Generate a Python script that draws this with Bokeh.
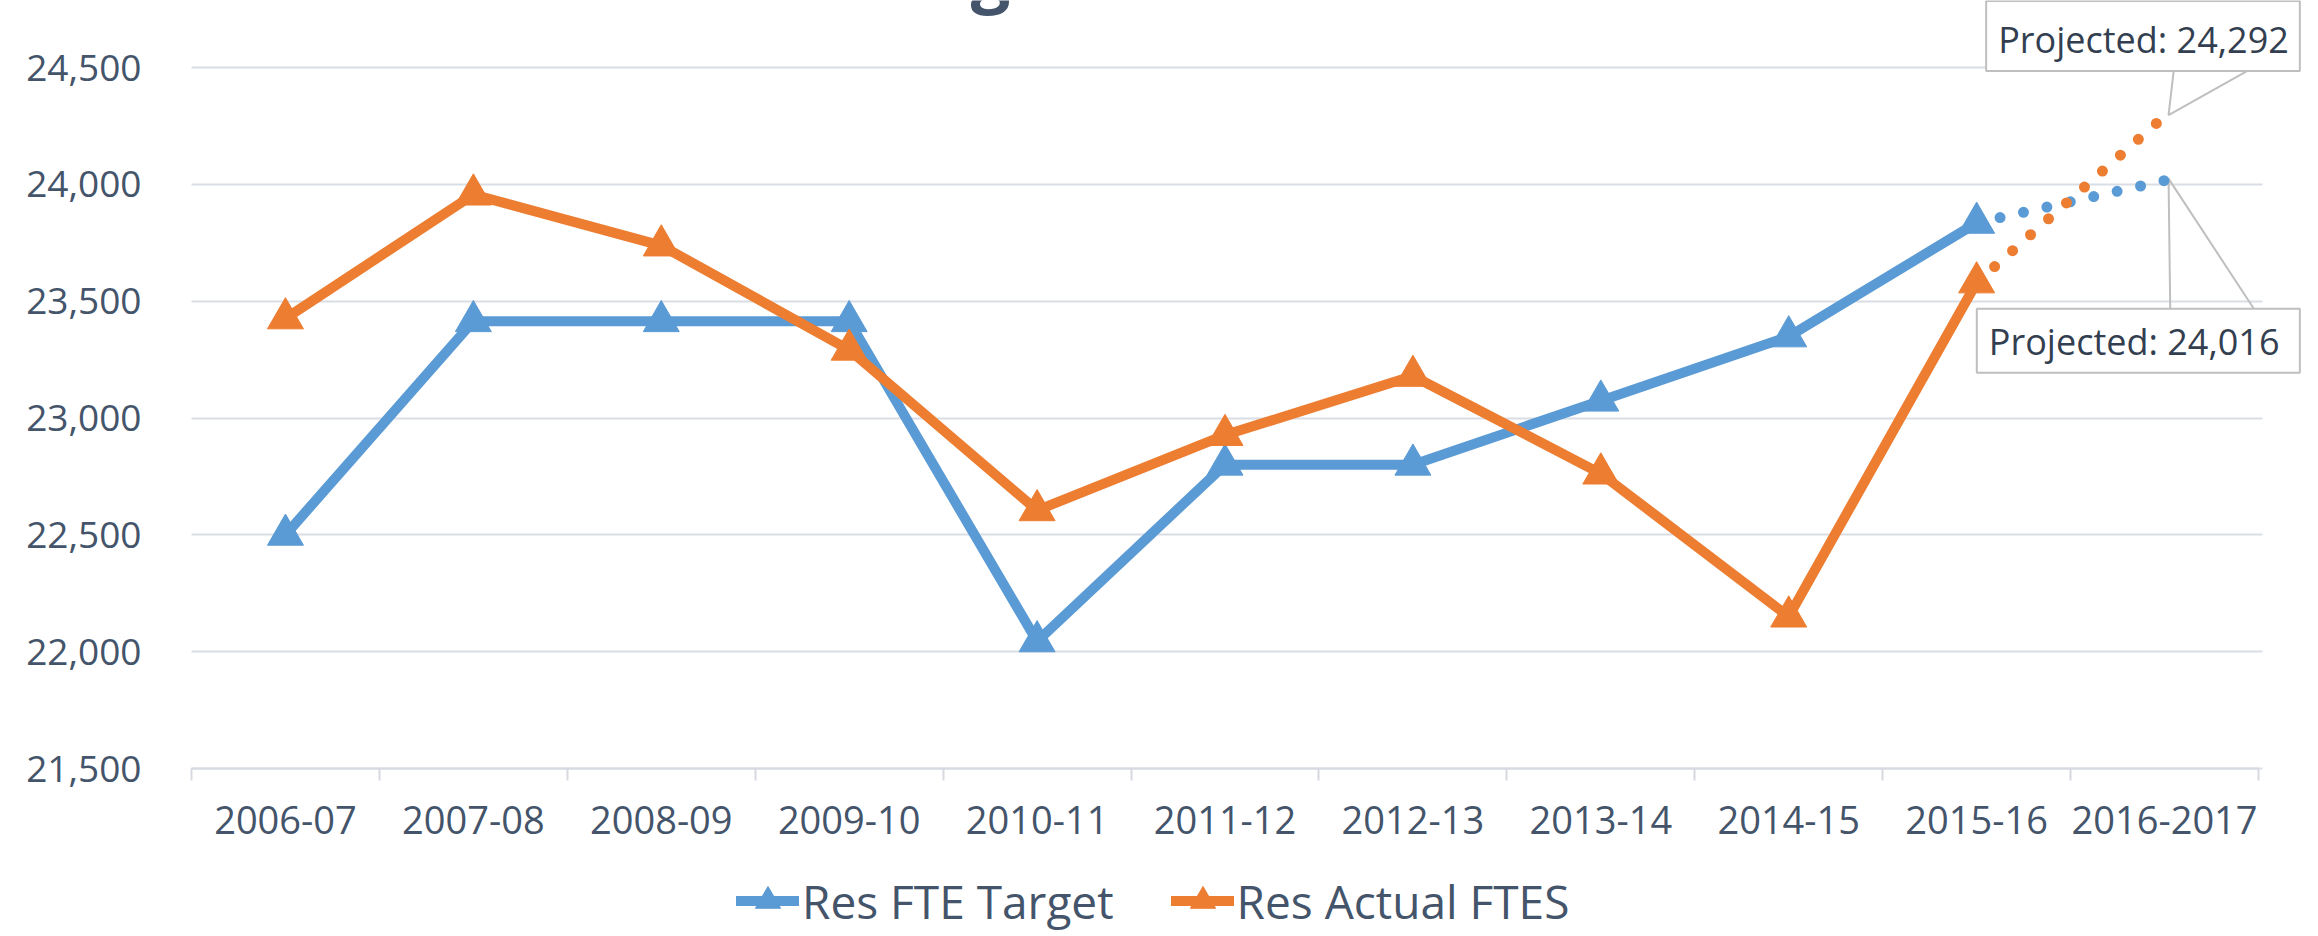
import numpy as np
from bokeh.plotting import figure
from bokeh.models import Range1d, FixedTicker, NumeralTickFormatter, Legend, LegendItem, Label
from bokeh.embed import file_html
from bokeh.resources import INLINE

# ---------------- data ----------------
categories = ["2006-07", "2007-08", "2008-09", "2009-10", "2010-11", "2011-12",
              "2012-13", "2013-14", "2014-15", "2015-16", "2016-2017"]
res_fte_target = [22500, 23414, 23414, 23414, 22044, 22800, 22800, 23074, 23349, 23835]
res_actual_ftes = [23426, 23956, 23738, 23292, 22605, 22927, 23180, 22762, 22150, 23580]
projected_target = 24016
projected_actual = 24292
y_ticks = [21500, 22000, 22500, 23000, 23500, 24000, 24500]
series_names = ["Res FTE Target", "Res Actual FTES"]
title_text = "Target VS Actual"

# ---------------- style / layout ----------------
BLUE = "#5B9BD5"
ORANGE = "#ED7D31"
TEXT = "#44546A"
CALLOUT_TEXT = "#333F50"
GRID = "#D9DEE4"
AXIS = "#D6DAE0"
FONT = "Open Sans"

W, H = 2318, 936
PLOT_LEFT, PLOT_RIGHT = 191, 2258      # category axis extent (px)
PLOT_TOP_VAL_PX, PLOT_BOTTOM_PX = 67, 768   # pixel rows of top / bottom tick
n_cat = len(categories)
px_x = (PLOT_RIGHT - PLOT_LEFT) / n_cat
px_y = (PLOT_BOTTOM_PX - PLOT_TOP_VAL_PX) / (y_ticks[-1] - y_ticks[0])

# the frame covers the whole canvas; axes are pinned inside it
x_start = -0.5 - PLOT_LEFT / px_x
x_end = -0.5 + (W - PLOT_LEFT) / px_x
y_start = y_ticks[0] - (H - PLOT_BOTTOM_PX) / px_y
y_end = y_ticks[0] + PLOT_BOTTOM_PX / px_y

p = figure(width=W, height=H,
           x_range=Range1d(x_start, x_end), y_range=Range1d(y_start, y_end),
           output_backend="svg", toolbar_location=None,
           min_border_left=0, min_border_right=0, min_border_top=0, min_border_bottom=0)
p.outline_line_color = None
p.background_fill_color = "white"
p.border_fill_color = "white"

# y axis
p.yaxis.fixed_location = -0.5
p.yaxis.ticker = FixedTicker(ticks=y_ticks)
p.yaxis.formatter = NumeralTickFormatter(format="0,0")
p.yaxis.axis_line_color = None
p.yaxis.major_tick_line_color = None
p.yaxis.minor_tick_line_color = None
p.yaxis.major_tick_out = 0
p.yaxis.major_tick_in = 0
p.yaxis.major_label_standoff = 50
p.yaxis.major_label_text_font = FONT
p.yaxis.major_label_text_font_size = "37px"
p.yaxis.major_label_text_color = TEXT

# x axis: labels at category centres, tick marks between categories
idx = list(range(n_cat))
p.xaxis.fixed_location = y_ticks[0]
p.xaxis.ticker = FixedTicker(ticks=idx, minor_ticks=[i - 0.5 for i in range(n_cat + 1)])
p.xaxis.major_label_overrides = {i: c for i, c in zip(idx, categories)}
p.xaxis.bounds = (-0.5, n_cat - 0.5)
p.xaxis.axis_line_color = AXIS
p.xaxis.axis_line_width = 2
p.xaxis.major_tick_line_color = None
p.xaxis.major_tick_out = 12
p.xaxis.major_tick_in = 0
p.xaxis.minor_tick_line_color = AXIS
p.xaxis.minor_tick_line_width = 2
p.xaxis.minor_tick_out = 12
p.xaxis.minor_tick_in = 0
p.xaxis.major_label_standoff = 25
p.xaxis.major_label_text_font = FONT
p.xaxis.major_label_text_font_size = "38px"
p.xaxis.major_label_text_color = TEXT

p.xgrid.grid_line_color = None
p.ygrid.grid_line_color = GRID
p.ygrid.grid_line_width = 2
p.ygrid.bounds = (y_ticks[0], y_ticks[-1])
p.ygrid.cross_bounds = (-0.5, n_cat - 0.5 + 4 / px_x)

# ---------------- callout pointers ----------------
last = len(res_fte_target)  # index of the projected category
def cx(dpx):
    return last + dpx / px_x
def vy(val, dpx):
    return val + dpx / px_y

p.line([cx(9.7), cx(4), cx(91.3)],
       [vy(projected_actual, 49.9), vy(projected_actual, 1), vy(projected_actual, 49.9)],
       line_color="#BFBFBF", line_width=2)
p.line([cx(5.7), cx(4), cx(89.8)],
       [vy(projected_target, -128.9), vy(projected_target, 2), vy(projected_target, -128.9)],
       line_color="#BFBFBF", line_width=2)

# ---------------- series ----------------
xt = list(range(len(res_fte_target)))
bl = p.line(xt, res_fte_target, line_color=BLUE, line_width=10, line_join="round", line_cap="round")
bs = p.scatter(xt, res_fte_target, marker="triangle", size=36, fill_color=BLUE, line_color=BLUE)
p.line([xt[-1], last], [res_fte_target[-1], projected_target], line_color=BLUE,
       line_width=11, line_dash="0 24", line_cap="round")

xa = list(range(len(res_actual_ftes)))
ol = p.line(xa, res_actual_ftes, line_color=ORANGE, line_width=10, line_join="round", line_cap="round")
os_ = p.scatter(xa, res_actual_ftes, marker="triangle", size=36, fill_color=ORANGE, line_color=ORANGE)
p.line([xa[-1], last], [res_actual_ftes[-1], projected_actual], line_color=ORANGE,
       line_width=11, line_dash="0 24", line_cap="round")

# ---------------- callout boxes ----------------
BASE_SHIFT = 0.39   # Label anchor sits this many em above the drawn baseline
def page_y_to_val(py):
    return y_end - py / px_y
def callout(baseline_px, text, pad_top):
    return Label(x=cx(135.3), y=page_y_to_val(baseline_px - BASE_SHIFT * 36),
                 text=text, text_align="right", text_baseline="alphabetic",
                 text_font=FONT, text_font_size="36px", text_color=CALLOUT_TEXT,
                 background_fill_color="white", border_line_color="#BFBFBF",
                 border_line_width=2,
                 padding=dict(left=12, right=11, top=pad_top, bottom=7))

p.add_layout(callout(49.5, f"Projected: {projected_actual:,}", 14))
p.add_layout(callout(354.3, f"Projected:  {projected_target:,}", 8))

# ---------------- title (cut off by the top edge, as in the reference) ----------------
p.add_layout(Label(x=-0.5 + (1141 - PLOT_LEFT) / px_x,
                   y=page_y_to_val(-29), text=title_text,
                   text_align="center", text_baseline="alphabetic",
                   text_font=FONT, text_font_style="bold", text_font_size="70px",
                   text_color=TEXT))

# ---------------- legend ----------------
legend = Legend(items=[LegendItem(label=series_names[0], renderers=[bl, bs]),
                       LegendItem(label=series_names[1], renderers=[ol, os_])],
                location=(736, 4), orientation="horizontal",
                glyph_width=63, glyph_height=63,
                label_text_font=FONT, label_text_font_size="46px",
                label_text_color=TEXT, label_standoff=3, spacing=57,
                padding=0, margin=0, border_line_color=None,
                background_fill_alpha=0)
p.add_layout(legend)

open("out.html", "w").write(file_html(p, INLINE))
